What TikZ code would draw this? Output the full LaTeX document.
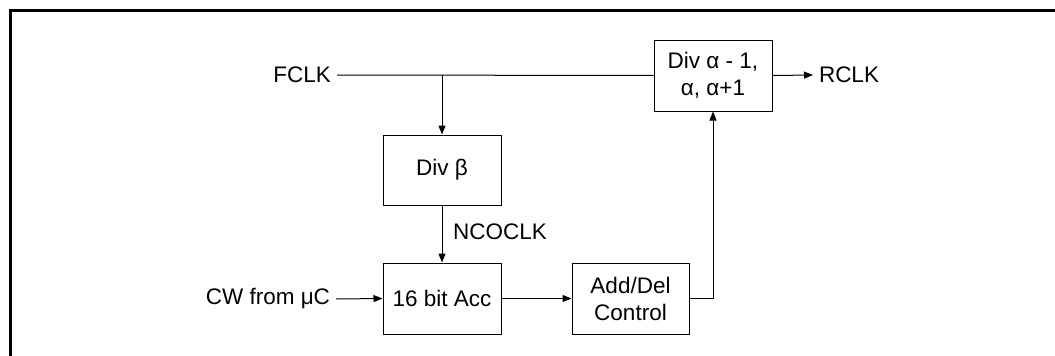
\documentclass[tikz,border=0pt]{standalone}
\usepackage{fontspec}
\setmainfont{Liberation Sans}
\usetikzlibrary{arrows.meta}
\begin{document}
\begin{tikzpicture}[x=1pt,y=-1pt,
  every node/.style={font=\fontsize{22.5}{27}\selectfont},
  blk/.style={draw,line width=1pt,rectangle,minimum width=118pt,minimum height=71pt,inner sep=0pt,align=center},
  lbl/.style={inner sep=0pt,outer sep=6pt},
  wire/.style={line width=1pt},
  arr/.style={wire,-{Triangle[length=9pt,width=7pt]}}]
\useasboundingbox (0,0) rectangle (1055,356);
\draw[line width=2.5pt] (10.5,356) -- (10.5,10.5) -- (1055,10.5);
\node[blk] (dA) at (713,75.5) {Div α - 1,\\α, α+1};
\node[blk,minimum height=70pt] (dB) at (442,170) {Div β};
\node[blk] (acc) at (442,298.5) {16 bit Acc};
\node[blk,minimum width=117pt] (ad) at (630.5,298.5) {Add/Del\\Control};
\node[lbl,anchor=east] (fclk) at (337,75) {FCLK};
\node[lbl,anchor=west] (rclk) at (813,75) {RCLK};
\node[lbl,anchor=east] (cw) at (336,299) {CW from μC};
\node[inner sep=0pt,anchor=west] (nco) at (453,232) {NCOCLK};
\draw[wire] (fclk.east) -- (dA.west);
\draw[arr] (fclk.east -| dB.north) -- (dB.north);
\draw[arr] (dA.east) -- (rclk.west);
\draw[arr] (dB.south) -- (acc.north);
\draw[arr] (cw.east) -- (acc.west);
\draw[arr] (acc.east) -- (ad.west);
\draw[arr] (ad.east) -| (dA.south);
\end{tikzpicture}
\end{document}
